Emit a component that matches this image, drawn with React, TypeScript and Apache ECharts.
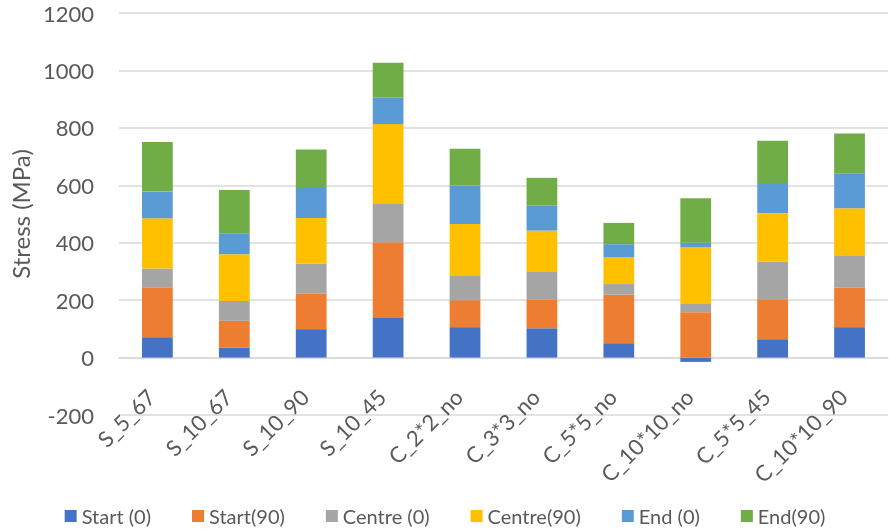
import React, { useEffect, useRef } from "react";
import * as echarts from "echarts";

const categories = ["S_5_67", "S_10_67", "S_10_90", "S_10_45", "C_2*2_no", "C_3*3_no", "C_5*5_no", "C_10*10_no", "C_5*5_45", "C_10*10_90"];
const startZero = [71, 34, 99, 138, 106, 102, 50, -15, 64, 106];
const startNinety = [174, 94, 123, 264, 94, 99, 169, 158, 139, 137];
const centreZero = [65, 69, 105, 133, 84, 97, 37, 29, 131, 113];
const centreNinety = [175, 163, 159, 278, 181, 144, 93, 197, 169, 164];
const endZero = [93, 73, 108, 93, 134, 87, 46, 16, 105, 120];
const endNinety = [173, 151, 131, 121, 128, 97, 74, 155, 147, 140];

const seriesNames = ["Start (0)", "Start(90)", "Centre (0)", "Centre(90)", "End (0)", "End(90)"];
const seriesData = [startZero, startNinety, centreZero, centreNinety, endZero, endNinety];
const colors = ["#4472C4", "#ED7D31", "#A5A5A5", "#FFC000", "#5B9BD5", "#70AD47"];

const FONT = "Lato, 'Open Sans', sans-serif";

const GRID_TOP = 13;
const GRID_BOTTOM = 116;
const CHART_H = 531;
const Y_MIN = -200;
const Y_MAX = 1200;

export default function App() {
  const ref = useRef<HTMLDivElement>(null);
  useEffect(() => {
    if (!ref.current) return;
    const chart = echarts.init(ref.current, undefined, { renderer: "svg" });
    const plotH = CHART_H - GRID_TOP - GRID_BOTTOM;
    const zeroOffset = (plotH * (0 - Y_MIN)) / (Y_MAX - Y_MIN);
    chart.setOption({
      animation: false,
      textStyle: { fontFamily: FONT },
      color: colors,
      grid: { left: 112, right: 2, top: GRID_TOP, bottom: GRID_BOTTOM, containLabel: false },
      legend: {
        bottom: 0,
        left: "center",
        itemWidth: 12,
        itemHeight: 12,
        itemGap: 41,
        icon: "rect",
        textStyle: { fontFamily: FONT, fontSize: 20, color: "#595959" },
        data: seriesNames,
      },
      xAxis: {
        type: "category",
        data: categories,
        offset: -zeroOffset,
        axisLine: { onZero: false, lineStyle: { color: "#d9d9d9", width: 1.5 } },
        axisTick: { show: false },
        axisLabel: {
          rotate: 45,
          interval: 0,
          margin: 29,
          padding: [0, 9, 0, 0],
          color: "#595959",
          fontSize: 22,
          fontFamily: FONT,
        },
      },
      yAxis: {
        type: "value",
        min: Y_MIN,
        max: Y_MAX,
        interval: 200,
        name: "Stress (MPa)",
        nameLocation: "middle",
        nameGap: 86,
        nameTextStyle: { color: "#595959", fontSize: 24, fontFamily: FONT },
        axisLine: { show: false },
        axisTick: { show: false },
        axisLabel: { margin: 25, color: "#595959", fontSize: 22, fontFamily: FONT, formatter: (v: number) => String(v) },
        splitLine: { lineStyle: { color: "#d9d9d9", width: 1.5 } },
      },
      series: seriesNames.map((name, i) => ({
        name,
        type: "bar",
        stack: "total",
        barWidth: "40%",
        data: seriesData[i],
        itemStyle: { color: colors[i] },
      })),
    });
    return () => chart.dispose();
  }, []);
  return <div ref={ref} style={{ position: "fixed", left: 0, top: 0, width: 890, height: 531 }} />;
}
